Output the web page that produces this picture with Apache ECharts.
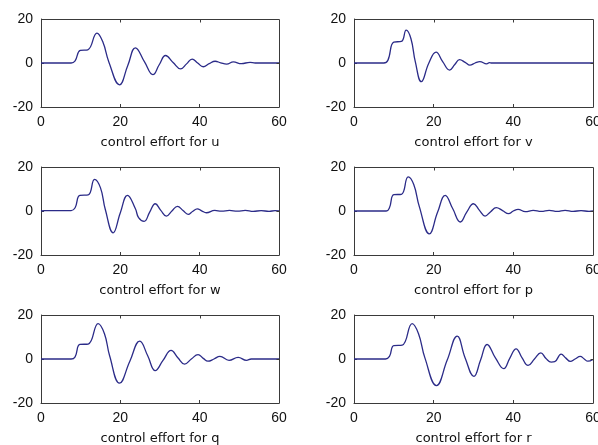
<!DOCTYPE html>
<html>
<head>
<meta charset="utf-8">
<script src="https://cdn.jsdelivr.net/npm/echarts@6/dist/echarts.min.js"></script>
<style>html,body{margin:0;padding:0;background:#fff}#c{width:598px;height:445px}</style>
</head>
<body>
<div id="c"></div>
<script>
const xTicks = [0, 20, 40, 60];
const yTicks = [-20, 0, 20];
const labels = ['control effort for u','control effort for v','control effort for w','control effort for p','control effort for q','control effort for r'];

const uData = [[0,0],[7.6,0],[8.6,1],[9.9,5.7],[11.8,6],[14.1,13.6],[15.6,9.5],[17.1,0.5],[19.8,-9.9],[21.9,-1],[23.8,6.9],[26.1,0.5],[28.2,-5.3],[29.8,-0.8],[31.4,3.4],[33.3,0.2],[35.2,-2.7],[36.7,-0.4],[38.1,1.8],[39.5,0],[40.9,-1.7],[42.4,-0.3],[43.9,0.8],[45.3,0.1],[46.8,-0.5],[48.5,0.5],[50.5,-0.3],[52.7,0.3],[54,0],[60,0]];
const vData = [[0,0],[7.5,0],[8.5,1.2],[10,9.5],[11.9,9.8],[13.1,14.9],[14.3,11],[15.4,0.5],[16.9,-8.5],[18.8,0],[20.6,4.9],[22.3,0.5],[24,-3.2],[25.3,-0.7],[26.5,1.5],[27.9,0.3],[29.1,-1],[30.4,0],[31.6,0.6],[33.3,-0.4],[34,0.2],[34.6,0],[60,0]];
const wData = [[0,0],[1,0.2],[7.6,0.2],[8.6,1.5],[9.8,7.1],[11.9,7.3],[13.5,14.4],[15,10.5],[16.2,0.8],[18.2,-9.9],[20,-0.8],[21.8,7.1],[23.8,1],[24.6,-3],[26,-4.7],[27.4,-0.5],[28.8,3.3],[30.2,0.3],[31.6,-2.3],[33,0],[34.4,2.1],[35.8,0.2],[37.1,-1.5],[38.2,-0.2],[39.4,1],[40.5,0.1],[41.7,-0.8],[43.8,0.3],[45.5,-0.1],[47.5,0.3],[49.5,-0.1],[51.5,0.3],[53.5,-0.2],[55.5,0.2],[57.5,-0.2],[59,0.2],[60,0]];
const pData = [[0,0],[8.1,0],[8.9,1.5],[10,7.4],[11.9,7.6],[13.6,15.5],[15,12],[16.4,2],[18.9,-10.4],[21,-0.5],[22.9,7.1],[24.8,1],[26.7,-5],[28.3,-0.5],[30,3.3],[31.5,0.3],[32.9,-2.3],[34.3,-0.3],[35.7,1.5],[37.3,0.2],[38.8,-1.2],[40,0],[41.2,0.7],[43,-0.3],[45,0.3],[47,-0.2],[49,0.3],[51,-0.2],[53,0.3],[55,-0.2],[57,0.2],[59,-0.2],[60,0]];
const qData = [[0,0],[7.6,0],[8.6,1],[9.8,6.6],[11.9,6.8],[14.4,16.1],[16,11.5],[17.3,1.5],[19.8,-11],[22.4,-1],[24.9,8.1],[26.9,1.5],[28.8,-5.3],[30.8,-0.5],[32.8,3.9],[34.5,0.6],[36.2,-2.3],[37.9,0],[39.6,2],[40.9,0.3],[42.1,-1],[43.6,0],[45.1,1.2],[47.4,-0.6],[49.7,0.7],[51.8,-0.6],[53,0],[60,0]];
const rData = [[0,0],[7.9,0],[8.9,1.2],[10,6.1],[12.1,6.3],[14.6,16.1],[16.2,11.5],[17.8,0.5],[20.7,-12.1],[23.4,-0.5],[25.9,10.4],[27.9,0.5],[30.1,-7.9],[31.8,-0.3],[33.4,6.6],[35.5,0.5],[37.6,-4.4],[39.1,0.3],[40.7,4.6],[42.2,0.5],[43.7,-2.9],[45.3,0],[46.9,2.8],[48.2,0.2],[49.5,-1.4],[50.4,-1.2],[52,2.2],[53.2,0.4],[54.3,-1.1],[55.5,0],[56.8,1.2],[57.8,0],[58.7,-1],[60,-0.2]];
const allData = [uData, vData, wData, pData, qData, rData];

const lefts = [41, 354];
const tops = [19, 167, 315];
const W = [238, 239];
const H = 88;
const font = 'Liberation Sans';
const axisCol = '#3a3a3a';

function xAxisOpt(i) {
  return {gridIndex: i, type: 'value', position: 'bottom', min: xTicks[0], max: xTicks[xTicks.length-1], interval: 20,
    splitLine: {show: false},
    axisLine: {show: true, onZero: false, lineStyle: {color: axisCol, width: 1}},
    axisTick: {show: true, inside: true, length: 3, lineStyle: {color: axisCol}},
    axisLabel: {show: true, color: '#111', fontFamily: font, fontSize: 14, margin: 8},
    name: labels[i], nameLocation: 'middle', nameGap: 29,
    nameTextStyle: {color: '#111', fontFamily: 'DejaVu Sans', fontSize: 13}};
}
function yAxisOpt(i) {
  return {gridIndex: i, type: 'value', position: 'left', min: yTicks[0], max: yTicks[yTicks.length-1], interval: 20,
    splitLine: {show: false},
    axisLine: {show: true, onZero: false, lineStyle: {color: axisCol, width: 1}},
    axisTick: {show: true, inside: true, length: 3, lineStyle: {color: axisCol}},
    axisLabel: {show: true, color: '#111', fontFamily: font, fontSize: 14, margin: 8}};
}

const grids = [], xAxes = [], yAxes = [], series = [], graphics = [];
for (let i = 0; i < 6; i++) {
  const col = i % 2, row = Math.floor(i / 2);
  const L = lefts[col], T = tops[row], w = W[col];
  grids.push({left: L, top: T, width: w, height: H, outerBoundsMode: 'none'});
  xAxes.push(xAxisOpt(i));
  yAxes.push(yAxisOpt(i));
  series.push({type: 'line', xAxisIndex: i, yAxisIndex: i, data: allData[i],
    showSymbol: false, smooth: 0.45, lineStyle: {color: '#2b2b88', width: 1.3}, silent: true});
  // top and right edges of the box, with mirrored inward ticks
  const x0 = L + 0.5, xR = L + w + 0.5, yT = T + 0.5, yB = T + H + 0.5;
  graphics.push({type: 'polyline', silent: true, z: 100,
    shape: {points: [[x0, yT], [xR, yT], [xR, yB]]},
    style: {fill: null, stroke: axisCol, lineWidth: 1}});
  xTicks.slice(1, -1).forEach(t => {
    const px = Math.round(L + w * (t - xTicks[0]) / (xTicks[xTicks.length-1] - xTicks[0])) + 0.5;
    graphics.push({type: 'line', silent: true, z: 100, shape: {x1: px, y1: yT, x2: px, y2: yT + 3},
      style: {stroke: axisCol, lineWidth: 1}});
  });
  yTicks.slice(1, -1).forEach(v => {
    const py = Math.round(T + H * (yTicks[yTicks.length-1] - v) / (yTicks[yTicks.length-1] - yTicks[0])) + 0.5;
    graphics.push({type: 'line', silent: true, z: 100, shape: {x1: xR - 3, y1: py, x2: xR, y2: py},
      style: {stroke: axisCol, lineWidth: 1}});
  });
}

const chart = echarts.init(document.getElementById('c'), null, {renderer: 'canvas'});
chart.setOption({backgroundColor: '#fff', animation: false, grid: grids, xAxis: xAxes, yAxis: yAxes,
  series: series, graphic: {elements: graphics}});
</script>
</body>
</html>
